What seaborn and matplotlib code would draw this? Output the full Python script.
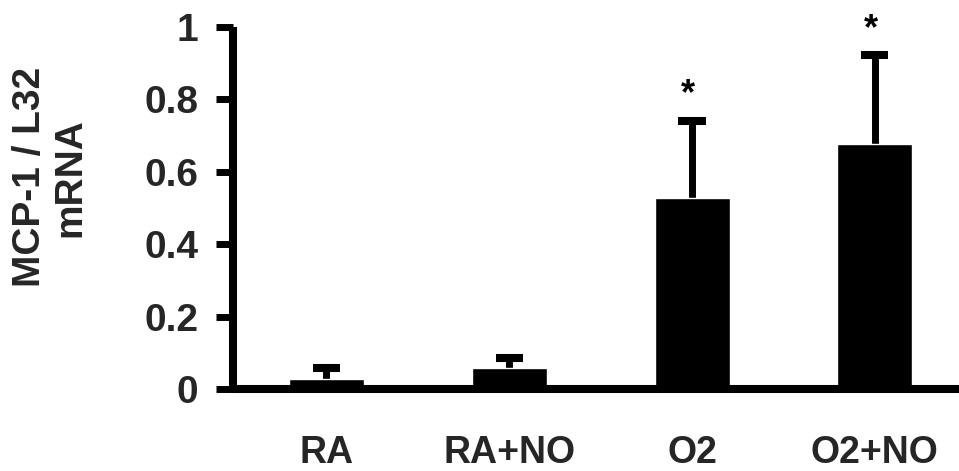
import matplotlib
matplotlib.use("Agg")
import matplotlib.pyplot as plt
import seaborn as sns
import pandas as pd

# Group means and upper standard errors
groups = ["RA", "RA+NO", "O2", "O2+NO"]
means = [0.029, 0.059, 0.527, 0.677]
errors = [0.028, 0.026, 0.214, 0.244]
significant = [False, False, True, True]
yticks = [0, 0.2, 0.4, 0.6, 0.8, 1]
ytick_labels = ["0", "0.2", "0.4", "0.6", "0.8", "1"]

sns.set_theme(style="white")
plt.rcParams["font.family"] = ["Liberation Sans", "DejaVu Sans"]
plt.rcParams["font.weight"] = "bold"

df = pd.DataFrame({"group": groups, "value": means})

fig = plt.figure(figsize=(9.59, 4.71), dpi=100)
ax = fig.add_axes([0.243, 0.174, 0.757, 0.769])

sns.barplot(data=df, x="group", y="value", color="black", width=0.41,
            errorbar=None, saturation=1, ax=ax, zorder=2)

# upper-only error bars: stem from bar top, flat cap at mean + error
positions = list(range(len(groups)))
tops = [m + e for m, e in zip(means, errors)]
cap_half = 0.074
ax.vlines(positions, means, tops, colors="black", linewidth=5.0, zorder=1)
ax.hlines(tops, [p - cap_half for p in positions],
          [p + cap_half for p in positions], colors="black",
          linewidth=5.8, zorder=1)

for x, t, s in zip(positions, tops, significant):
    if s:
        ax.text(x - 0.02, t + 0.046, "*", ha="center", va="baseline",
                fontsize=26, fontweight="bold", color="black", clip_on=False)

ax.set_xlim(-0.51, 3.46)
ax.set_ylim(0, 1)
ax.set_yticks(yticks)
ax.set_yticklabels(ytick_labels)
ax.set_xlabel("")
ax.set_ylabel("")

for side in ["top", "right"]:
    ax.spines[side].set_visible(False)
for side in ["left", "bottom"]:
    ax.spines[side].set_linewidth(5.8)
    ax.spines[side].set_color("black")
    ax.spines[side].set_capstyle("butt")

ax.tick_params(axis="y", which="major", direction="out", length=12,
               width=5.0, color="black", labelsize=28, pad=13, left=True)
ax.tick_params(axis="x", which="major", length=0, labelsize=27, pad=33)
for lab in ax.get_xticklabels() + ax.get_yticklabels():
    lab.set_fontweight("bold")

fig.text(0.052, 0.624, "MCP-1 / L32\nmRNA", rotation=90, ha="center",
         va="center", multialignment="center", fontsize=28,
         fontweight="bold", linespacing=1.15)

fig.savefig("out.png", dpi=100, facecolor="white")
